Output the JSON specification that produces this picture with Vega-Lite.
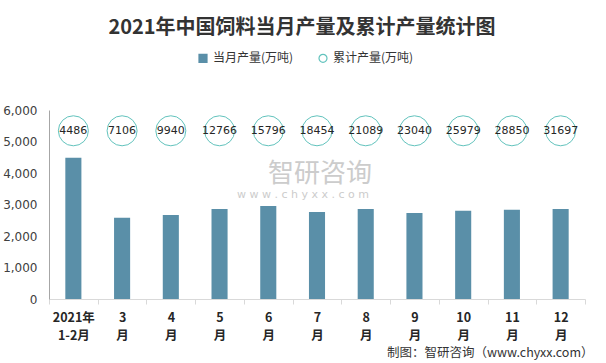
{
  "$schema": "https://vega.github.io/schema/vega-lite/v6.json",
  "width": 536,
  "height": 189,
  "autosize": {"type": "none"},
  "padding": {"left": 49, "top": 110, "right": 21, "bottom": 64},
  "background": "#ffffff",
  "title": {
    "text": "2021年中国饲料当月产量及累计产量统计图",
    "font": "Noto Sans CJK SC",
    "fontSize": 20,
    "fontWeight": "bold",
    "color": "#333333",
    "anchor": "middle",
    "dx": -15,
    "offset": 14
  },
  "data": {
    "values": [
      {"month": "2021年1-2月", "monthly": 4486, "cumulative": 4486},
      {"month": "3月", "monthly": 2576, "cumulative": 7106},
      {"month": "4月", "monthly": 2670, "cumulative": 9940},
      {"month": "5月", "monthly": 2860, "cumulative": 12766},
      {"month": "6月", "monthly": 2955, "cumulative": 15796},
      {"month": "7月", "monthly": 2765, "cumulative": 18454},
      {"month": "8月", "monthly": 2860, "cumulative": 21089},
      {"month": "9月", "monthly": 2730, "cumulative": 23040},
      {"month": "10月", "monthly": 2800, "cumulative": 25979},
      {"month": "11月", "monthly": 2830, "cumulative": 28850},
      {"month": "12月", "monthly": 2860, "cumulative": 31697}
    ]
  },
  "encoding": {
    "x": {
      "field": "month",
      "type": "nominal",
      "sort": null,
      "scale": {"paddingInner": 0, "paddingOuter": 0},
      "axis": {
        "title": "制图：智研咨询（www.chyxx.com）",
        "titleFont": "Noto Sans CJK SC",
        "titleFontSize": 12.5,
        "titleFontWeight": "normal",
        "titleColor": "#333333",
        "titleAnchor": "end",
        "titleAlign": "right",
        "titleX": 544,
        "titlePadding": 5,
        "labelAngle": 0,
        "labelExpr": "!isString(datum.value) ? '' : (datum.value == '2021年1-2月' ? ['2021年', '1-2月'] : [replace(datum.value, '月', ''), '月'])",
        "labelFont": "Noto Sans CJK SC",
        "labelFontSize": 12.5,
        "labelFontWeight": "bold",
        "labelColor": "#262626",
        "labelLineHeight": 18,
        "labelPadding": 7,
        "labelOverlap": false,
        "tickBand": "extent",
        "tickSize": 5,
        "tickColor": "#d9d9d9",
        "domainColor": "#d9d9d9",
        "grid": false
      }
    },
    "y": {
      "type": "quantitative",
      "scale": {"domain": [0, 6000]},
      "axis": {
        "title": null,
        "values": [0, 1000, 2000, 3000, 4000, 5000, 6000],
        "format": ",d",
        "labelFont": "DejaVu Sans",
        "labelFontSize": 12,
        "labelColor": "#404040",
        "labelPadding": 12,
        "labelOverlap": false,
        "ticks": false,
        "grid": false,
        "domainColor": "#a6a6a6"
      }
    }
  },
  "layer": [
    {
      "mark": {"type": "bar", "width": {"band": 0.33}},
      "encoding": {
        "y": {"field": "monthly", "type": "quantitative"},
        "color": {
          "datum": "当月产量(万吨)",
          "type": "nominal",
          "scale": {
            "domain": ["当月产量(万吨)", "累计产量(万吨)"],
            "range": ["#5A8FA8", "#62C3BD"]
          },
          "legend": {
            "title": null,
            "orient": "none",
            "legendX": 148,
            "legendY": -58,
            "direction": "horizontal",
            "labelFont": "Noto Sans CJK SC",
            "labelFontSize": 12,
            "labelColor": "#333333",
            "columnPadding": 22,
            "symbolSize": 64,
            "labelOffset": 4,
            "encode": {
              "symbols": {
                "enter": {
                  "fillOpacity": {"signal": "datum.value == '当月产量(万吨)' ? 1 : 0"}
                },
                "update": {
                  "shape": {"signal": "datum.value == '当月产量(万吨)' ? 'square' : 'circle'"},
                  "fill": {"signal": "datum.value == '当月产量(万吨)' ? '#5A8FA8' : 'transparent'"},
                  "fillOpacity": {"signal": "datum.value == '当月产量(万吨)' ? 1 : 0"},
                  "stroke": {"signal": "datum.value == '当月产量(万吨)' ? '#5A8FA8' : '#62C3BD'"},
                  "strokeWidth": {"value": 1.2},
                  "opacity": {"value": 1}
                }
              }
            }
          }
        }
      }
    },
    {
      "mark": {"type": "point", "shape": "circle", "size": 900, "filled": false, "strokeWidth": 1, "opacity": 1},
      "encoding": {
        "y": {"datum": 5340, "type": "quantitative"},
        "color": {"datum": "累计产量(万吨)", "type": "nominal"}
      }
    },
    {
      "mark": {"type": "text", "font": "DejaVu Sans", "fontSize": 11, "color": "#262626", "baseline": "middle", "align": "center"},
      "encoding": {
        "y": {"datum": 5340, "type": "quantitative"},
        "text": {"field": "cumulative", "type": "quantitative", "format": "d"}
      }
    },
    {
      "data": {"values": [{"w": "智研咨询"}]},
      "mark": {"type": "text", "font": "Noto Sans CJK SC", "fontSize": 26, "color": "#cccccc", "baseline": "middle", "align": "center", "dx": 3},
      "encoding": {
        "x": {"datum": "7月"},
        "y": {"datum": 3960, "type": "quantitative"},
        "text": {"field": "w"}
      }
    },
    {
      "data": {"values": [{"w": "w w w . c h y x x . c o m"}]},
      "mark": {"type": "text", "font": "DejaVu Sans", "fontSize": 11, "color": "#cccccc", "baseline": "middle", "align": "center", "dx": -14},
      "encoding": {
        "x": {"datum": "7月"},
        "y": {"datum": 3300, "type": "quantitative"},
        "text": {"field": "w"}
      }
    }
  ],
  "config": {
    "view": {"stroke": null},
    "font": "Noto Sans CJK SC"
  }
}
